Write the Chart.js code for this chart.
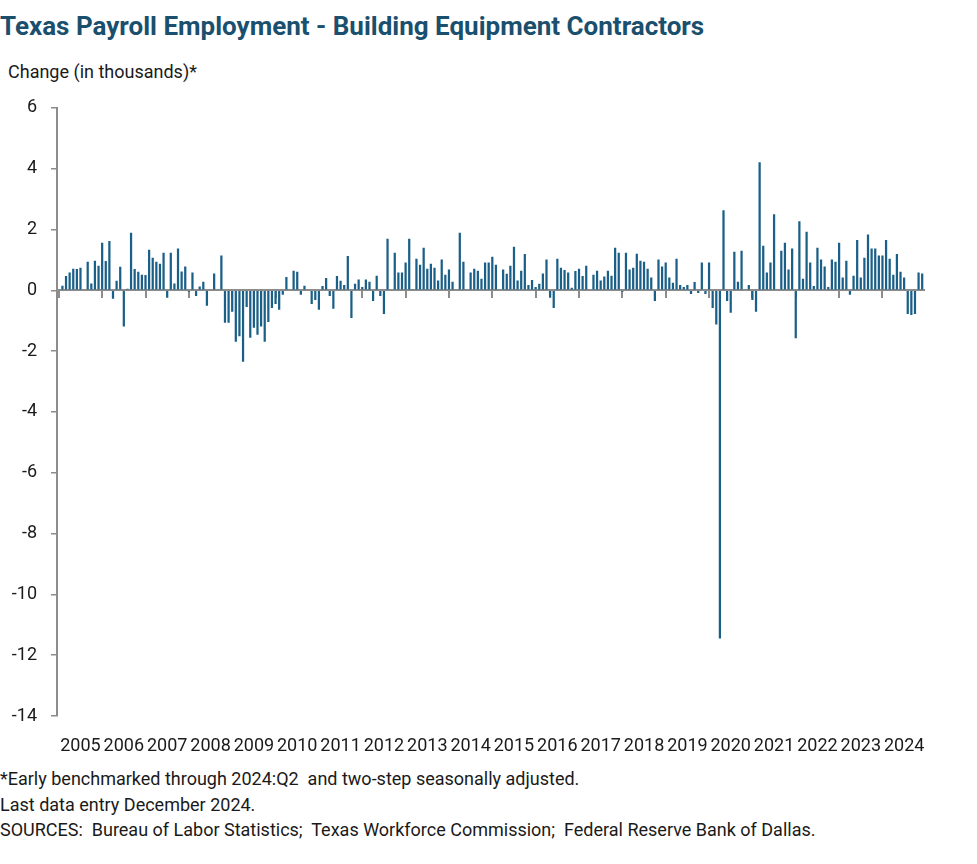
<!DOCTYPE html>
<html lang="en">
<head>
  <meta charset="UTF-8" />
  <title>Texas Payroll Employment - Building Equipment Contractors</title>
  <script src="https://cdn.jsdelivr.net/npm/chart.js"></script>
  <style>
    body { margin: 0; background: #fff; font-family: Roboto, sans-serif; color: #1a1a1a; }
    .wrap { position: relative; width: 977px; height: 864px; }
    h1 { position: absolute; left: 0; top: 10px; margin: 0; font-size: 26px; line-height: 32px; font-weight: 700; color: #1a4f6e; white-space: nowrap; }
    .ylab { position: absolute; left: 8px; top: 61px; font-size: 18px; }
    .chart { position: absolute; left: 0; top: 83px; width: 960px; height: 677px; }
    .notes { position: absolute; left: 0; top: 766px; font-size: 18px; line-height: 25.5px; white-space: pre; }
  </style>
</head>
<body>
<div class="wrap">
  <h1>Texas Payroll Employment - Building Equipment Contractors</h1>
  <div class="ylab">Change (in thousands)*</div>
  <div class="chart"><canvas id="payroll"></canvas></div>
  <div class="notes">*Early benchmarked through 2024:Q2  and two-step seasonally adjusted.
Last data entry December 2024.
SOURCES:  Bureau of Labor Statistics;  Texas Workforce Commission;  Federal Reserve Bank of Dallas.</div>
</div>

<script>
  const years = ['2005', '2006', '2007', '2008', '2009', '2010', '2011', '2012', '2013', '2014',
                 '2015', '2016', '2017', '2018', '2019', '2020', '2021', '2022', '2023', '2024'];

  // monthly change, thousands (Jan..Dec per row)
  const changes = [
    null, 0.15, 0.47, 0.58, 0.71, 0.70, 0.74, 0, 0.94, 0.22, 0.97, 0.81,
    1.56, 0.96, 1.62, -0.28, 0.31, 0.77, -1.19, 0.05, 1.89, 0.70, 0.61, 0.51,
    0.50, 1.33, 1.07, 0.94, 0.87, 1.23, -0.25, 1.23, 0.22, 1.37, 0.62, 0.78,
    -0.05, 0.58, -0.19, 0.12, 0.28, -0.51, 0, 0.55, 0, 1.14, -1.07, -1.07,
    -0.71, -1.69, -1.51, -2.35, -0.55, -1.56, -1.23, -1.46, -1.19, -1.69, -1.04, -0.58,
    -0.45, -0.64, -0.15, 0.44, 0, 0.64, 0.61, -0.15, 0.15, 0, -0.45, -0.32,
    -0.64, 0.14, 0.40, -0.19, -0.61, 0.47, 0.31, 0.17, 1.13, -0.91, 0.21, 0.35,
    0.11, 0.35, 0.28, -0.35, 0.48, -0.19, -0.78, 1.69, 0, 1.23, 0.58, 0.58,
    0.91, 1.69, 0.03, 1.04, 0.84, 1.40, 0.71, 0.87, 0.74, 0.32, 1.01, 0.51,
    0.68, 0.28, 0, 1.89, 0.94, 0, 0.58, 0.71, 0.64, 0.38, 0.91, 0.91,
    1.10, 0.84, 0, 0.68, 0.54, 0.81, 1.43, 0.32, 0.64, 1.19, 0.17, 0.34,
    0.11, 0.21, 0.55, 1.01, -0.25, -0.58, 1.04, 0.74, 0.67, 0.58, 0.08, 0.63,
    0.71, 0.47, 0.81, 0, 0.51, 0.64, 0.32, 0.45, 0.64, 0.48, 1.40, 1.23,
    -0.05, 1.23, 0.68, 0.74, 1.20, 0.97, 0.94, 0.71, 0.42, -0.35, 1.01, 0.78,
    0.91, 0.42, 0.25, 1.04, 0.17, 0.11, 0.17, -0.12, 0.27, -0.09, 0.91, -0.12,
    0.91, -0.58, -1.13, -11.45, 2.63, -0.35, -0.74, 1.27, 0.28, 1.30, 0, 0.17,
    -0.32, -0.71, 4.21, 1.46, 0.58, 0.91, 2.50, 0, 1.30, 1.56, 0.68, 1.37,
    -1.58, 2.27, 0.38, 1.92, 0.91, 0.14, 1.40, 1.01, 0.78, 0.11, 1.01, 0.94,
    1.56, 0.42, 0.97, -0.15, 0.48, 1.65, 0.42, 1.07, 1.83, 1.37, 1.37, 1.14,
    1.14, 1.65, 1.04, 0.51, 1.19, 0.61, 0.42, -0.78, -0.81, -0.78, 0.58, 0.55
  ];

  const yTicks = { min: -14, max: 6, step: 2 };

  const months = [];
  years.forEach(y => {
    for (let m = 1; m <= 12; m++) months.push(y + '-' + String(m).padStart(2, '0'));
  });

  const axisGray = '#8c8c8c';
  const tickFont = { family: 'Roboto', size: 18 };

  new Chart(document.getElementById('payroll'), {
    type: 'bar',
    data: {
      labels: months,
      datasets: [{
        data: changes,
        backgroundColor: '#1a5f87',
        barPercentage: 0.62,
        categoryPercentage: 1
      }]
    },
    options: {
      responsive: true,
      maintainAspectRatio: false,
      animation: false,
      layout: { padding: { top: 0, right: 36, left: 0, bottom: 0 } },
      plugins: { legend: { display: false }, tooltip: { enabled: false } },
      scales: {
        x: {
          offset: true,
          grid: { display: false, drawTicks: false },
          border: { display: false },
          ticks: {
            autoSkip: false,
            maxRotation: 0,
            padding: 20,
            color: '#1a1a1a',
            font: tickFont,
            callback: (v, i) => (i % 12 === 6 ? years[Math.floor(i / 12)] : '')
          },
          afterFit: s => { s.height = 44; }
        },
        x2: {
          type: 'category',
          position: { y: 0 },
          offset: true,
          z: 1,
          ticks: { display: false },
          grid: {
            offset: false,
            drawOnChartArea: false,
            drawTicks: true,
            tickLength: 7,
            lineWidth: 2,
            color: c => (c.index % 12 === 0 ? axisGray : 'rgba(0,0,0,0)')
          },
          border: { color: axisGray, width: 2 }
        },
        y: {
          min: yTicks.min,
          max: yTicks.max,
          ticks: { stepSize: yTicks.step, padding: 14, color: '#1a1a1a', font: tickFont },
          grid: { drawOnChartArea: false, drawTicks: true, tickLength: 6, color: axisGray, lineWidth: 1.5 },
          border: { color: axisGray, width: 2 },
          afterFit: s => { s.width = 57; }
        }
      }
    }
  });
</script>
</body>
</html>
